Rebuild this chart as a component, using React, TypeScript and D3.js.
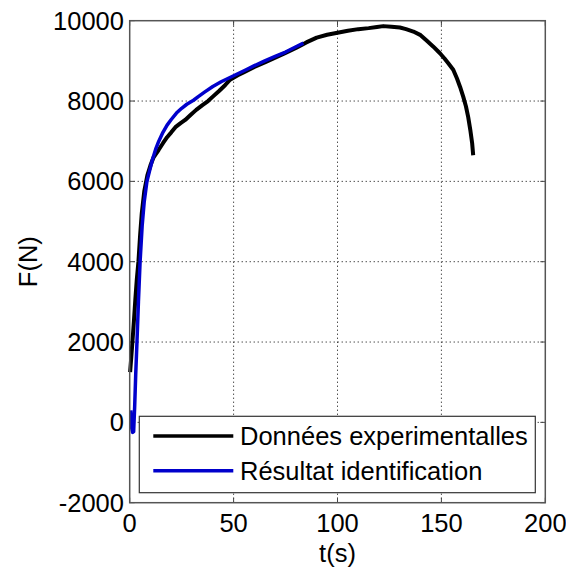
import React from "react";
import * as d3 from "d3";

const xTicks = [0, 50, 100, 150, 200];
const yTicks = [-2000, 0, 2000, 4000, 6000, 8000, 10000];

const expT = [0.2, 0.8, 1.3, 2.0, 2.7, 3.4, 4.2, 5.0, 5.8, 7.0, 8.5, 10, 11.5, 13.9, 16, 18, 20, 22, 24.5, 26.7, 29, 32, 35, 37.7, 40, 43, 46, 48.3, 52, 55, 60, 65, 70, 75, 80, 85, 90, 95, 100, 105, 110, 115, 119, 122, 126, 130, 133, 136.5, 140, 143, 146, 149.3, 151.5, 153.5, 155.7, 157.5, 159, 160.5, 161.8, 162.9, 164, 164.8, 165.3];
const expF = [1250, 1650, 2000, 2500, 3050, 3550, 4000, 4650, 5200, 5750, 6150, 6400, 6600, 6780, 6950, 7100, 7220, 7350, 7450, 7530, 7640, 7780, 7900, 8000, 8110, 8250, 8400, 8530, 8640, 8720, 8850, 8960, 9080, 9200, 9320, 9460, 9580, 9650, 9700, 9750, 9790, 9815, 9845, 9865, 9850, 9830, 9790, 9730, 9640, 9500, 9360, 9190, 9060, 8930, 8780, 8560, 8350, 8110, 7870, 7600, 7250, 6950, 6650];

const idT = [0.5, 1.0, 1.4, 1.9, 2.4, 2.9, 3.5, 4.2, 5.0, 6.0, 7.0, 8.3, 9.5, 11, 12.5, 14, 16, 18, 20, 22.5, 25, 27.5, 30.7, 33, 36, 40, 44, 48, 52, 56, 60, 65, 70, 75, 80, 83.6];
const idF = [300, -150, -250, -230, 400, 1200, 2000, 3000, 4000, 4900, 5500, 6000, 6250, 6550, 6800, 7000, 7220, 7400, 7540, 7700, 7820, 7920, 8020, 8110, 8220, 8360, 8480, 8580, 8680, 8780, 8880, 9000, 9110, 9220, 9350, 9440];

const legendLabels = ["Données experimentalles", "Résultat identification"];
const seriesColors = ["#000000", "#0000cc"];

export default function App() {
  const W = 566, H = 572;
  const x = d3.scaleLinear().domain([0, 200]).range([129.7, 545.3]);
  const y = d3.scaleLinear().domain([-2000, 10000]).range([502.7, 20.7]);
  const line = d3.line<[number, number]>().x(d => x(d[0])).y(d => y(d[1])).curve(d3.curveLinear);
  const expData: [number, number][] = expT.map((t, i) => [t, expF[i]]);
  const idData: [number, number][] = idT.map((t, i) => [t, idF[i]]);
  const [x0, x1] = x.range();
  const [y0, y1] = y.range();
  const font = "'Liberation Sans', Arial, sans-serif";
  const fs = 25.5;
  const tickLen = 5;
  return (
    <svg width={W} height={H} style={{ position: "fixed", left: 0, top: 0, background: "#fff" }} fontFamily={font}>
      <rect x={0} y={0} width={W} height={H} fill="#fff" />
      {/* grid */}
      {xTicks.slice(1, -1).map(t => (
        <line key={"gx" + t} x1={x(t)} x2={x(t)} y1={y0} y2={y1} stroke="#000" strokeWidth={1} strokeDasharray="1,3" />
      ))}
      {yTicks.slice(1, -1).map(t => (
        <line key={"gy" + t} x1={x0} x2={x1} y1={y(t)} y2={y(t)} stroke="#000" strokeWidth={1} strokeDasharray="1,3" />
      ))}
      {/* ticks */}
      {xTicks.map(t => (
        <g key={"tx" + t}>
          <line x1={x(t)} x2={x(t)} y1={y0} y2={y0 - tickLen} stroke="#444" strokeWidth={1} />
          <line x1={x(t)} x2={x(t)} y1={y1} y2={y1 + tickLen} stroke="#444" strokeWidth={1} />
          <text x={x(t)} y={532} fontSize={fs} textAnchor="middle" fill="#000">{t}</text>
        </g>
      ))}
      {yTicks.map(t => (
        <g key={"ty" + t}>
          <line x1={x0} x2={x0 + tickLen} y1={y(t)} y2={y(t)} stroke="#444" strokeWidth={1} />
          <line x1={x1} x2={x1 - tickLen} y1={y(t)} y2={y(t)} stroke="#444" strokeWidth={1} />
          <text x={124} y={y(t) + 9} fontSize={fs} textAnchor="end" fill="#000">{t}</text>
        </g>
      ))}
      {/* data */}
      <path d={line(expData) || ""} fill="none" stroke={seriesColors[0]} strokeWidth={4} strokeLinejoin="round" />
      <path d={line(idData) || ""} fill="none" stroke={seriesColors[1]} strokeWidth={3.5} strokeLinejoin="round" />
      {/* axes box */}
      <rect x={x0} y={y1} width={x1 - x0} height={y0 - y1} fill="none" stroke="#555" strokeWidth={1.5} />
      {/* legend */}
      <rect x={139.3} y={416.3} width={396} height={76.4} fill="#fff" stroke="#333" strokeWidth={1.2} />
      {legendLabels.map((lab, i) => {
        const ly = 436 + i * 34.7;
        return (
          <g key={lab}>
            <line x1={153.3} x2={233.3} y1={ly} y2={ly} stroke={seriesColors[i]} strokeWidth={3.5} />
            <text x={240} y={ly + 9} fontSize={fs} fill="#000">{lab}</text>
          </g>
        );
      })}
      {/* axis labels */}
      <text x={(x0 + x1) / 2} y={562} fontSize={fs} textAnchor="middle" fill="#000">t(s)</text>
      <text transform={`translate(37, ${(y0 + y1) / 2}) rotate(-90)`} fontSize={fs} textAnchor="middle" fill="#000">F(N)</text>
    </svg>
  );
}
